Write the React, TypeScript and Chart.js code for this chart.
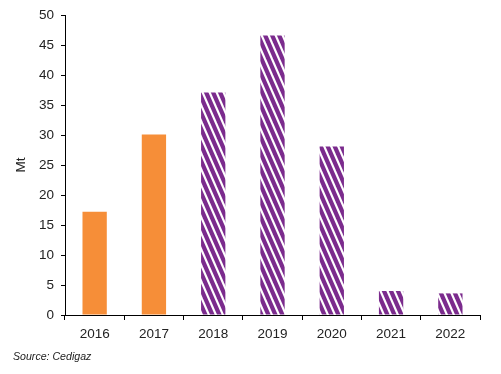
import React, { useEffect, useRef } from "react";
import { Chart, registerables } from "chart.js";

Chart.register(...registerables);

const years = ["2016", "2017", "2018", "2019", "2020", "2021", "2022"];
const values = [17.2, 30.1, 37.1, 46.6, 28.1, 4.0, 3.6];
const striped = [false, false, true, true, true, true, true];
const yTicks = [0, 5, 10, 15, 20, 25, 30, 35, 40, 45, 50];

const ORANGE = "#F68E38";
const PURPLE = "#7B2B8D";

function makePattern(): CanvasPattern | string {
  const c = document.createElement("canvas");
  const w = 7;
  const h = 16;
  c.width = w;
  c.height = h;
  const ctx = c.getContext("2d");
  if (!ctx) return PURPLE;
  ctx.fillStyle = PURPLE;
  ctx.fillRect(0, 0, w, h);
  ctx.fillStyle = "#ffffff";
  const sw = 2.4;
  for (let k = -2; k <= 2; k++) {
    const x0 = k * w;
    ctx.beginPath();
    ctx.moveTo(x0, 0);
    ctx.lineTo(x0 + sw, 0);
    ctx.lineTo(x0 + sw + w, h);
    ctx.lineTo(x0 + w, h);
    ctx.closePath();
    ctx.fill();
  }
  const p = ctx.createPattern(c, "repeat");
  return p || PURPLE;
}

export default function App() {
  const ref = useRef<HTMLCanvasElement>(null);
  useEffect(() => {
    document.body.style.margin = "0";
    const canvas = ref.current;
    if (!canvas) return;
    const pattern = makePattern();
    const font = { family: "'Liberation Sans', Arial, sans-serif", size: 13.5 };
    const chart = new Chart(canvas, {
      type: "bar",
      data: {
        labels: years,
        datasets: [
          {
            data: values,
            backgroundColor: striped.map((s) => (s ? pattern : ORANGE)) as any,
            borderWidth: 0,
            categoryPercentage: 1,
            barPercentage: 0.41,
          },
        ],
      },
      options: {
        responsive: false,
        animation: false,
        layout: { padding: { top: 15, right: 21, bottom: 29, left: 0 } },
        plugins: { legend: { display: false }, tooltip: { enabled: false } },
        scales: {
          x: {
            offset: true,
            grid: {
              offset: true,
              drawOnChartArea: false,
              drawTicks: true,
              tickLength: 5,
              color: "#000",
              lineWidth: 1,
            },
            border: { color: "#000", width: 1 },
            ticks: { color: "#222", font, padding: 6, maxRotation: 0 },
            afterFit: (s: any) => {
              s.height = 30;
            },
          },
          y: {
            min: 0,
            max: 50,
            afterBuildTicks: (s: any) => {
              s.ticks = yTicks.map((v) => ({ value: v }));
            },
            grid: {
              drawOnChartArea: false,
              drawTicks: true,
              tickLength: 4,
              color: "#000",
            },
            border: { color: "#000", width: 1 },
            ticks: { color: "#222", font, padding: 7 },
            title: {
              display: true,
              text: "Mt",
              color: "#222",
              font,
              padding: { top: 13, bottom: 0 },
            },
            afterFit: (s: any) => {
              s.width = 65;
            },
          },
        },
      },
    });
    return () => chart.destroy();
  }, []);
  return (
    <div style={{ position: "relative", width: 501, height: 374 }}>
      <canvas ref={ref} width={501} height={374} style={{ display: "block" }} />
      <div
        style={{
          position: "absolute",
          left: 13,
          top: 349,
          fontFamily: "'Liberation Sans', Arial, sans-serif",
          fontStyle: "italic",
          fontSize: 10.6,
          color: "#222",
          lineHeight: "14px",
        }}
      >
        Source: Cedigaz
      </div>
    </div>
  );
}
